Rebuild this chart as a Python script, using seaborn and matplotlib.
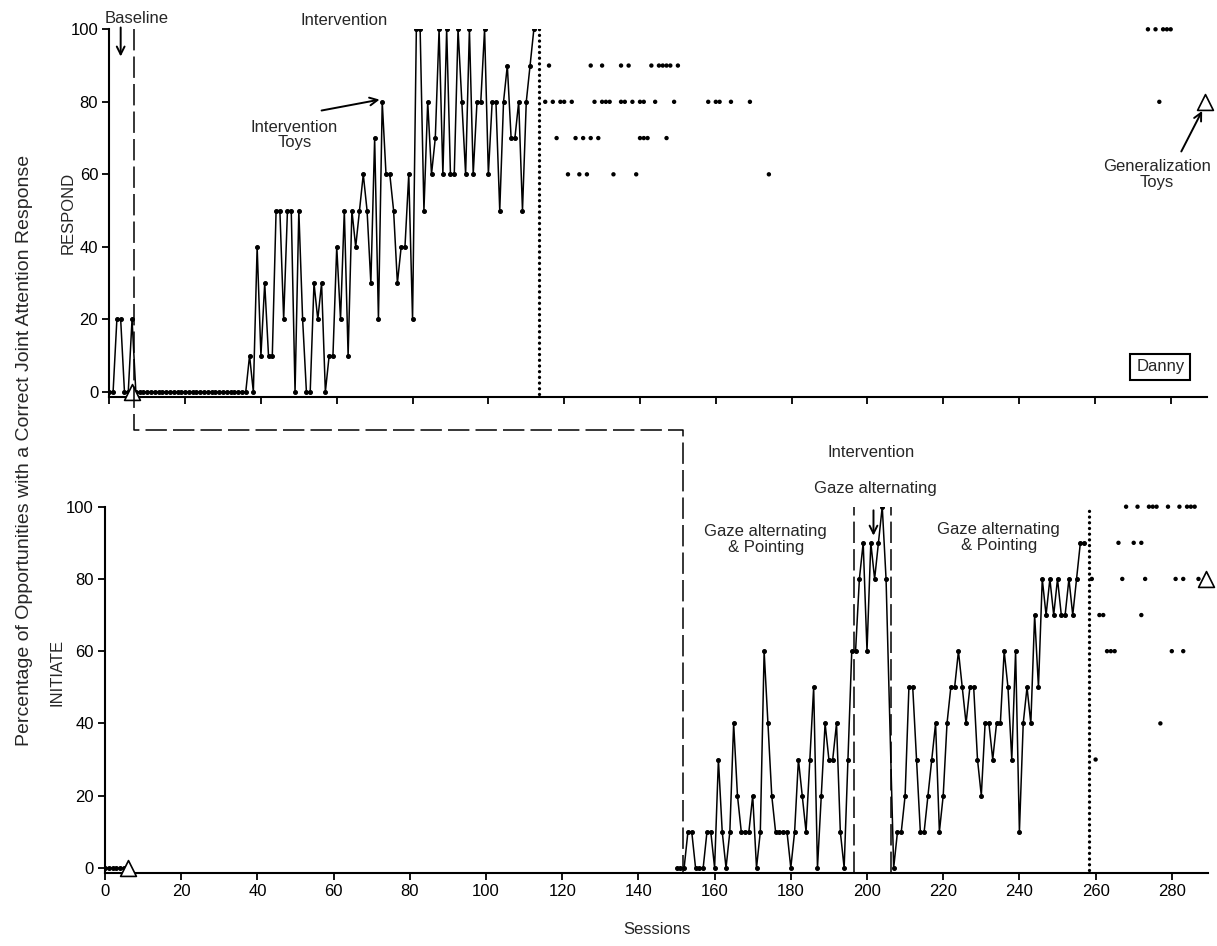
import matplotlib
matplotlib.use("Agg")
import matplotlib.pyplot as plt
import seaborn as sns
import pandas as pd
from matplotlib.lines import Line2D

# ---------------- data ----------------
# RESPOND panel: one continuous series (baseline sessions 0-6, intervention 7-112)
respond_values = (
    [0, 0, 20, 20, 0, 0, 20] +                      # baseline
    [0, 0, 0, 0, 0, 0, 0, 0, 0, 0, 0, 0, 0, 0, 0,
     0, 0, 0, 0, 0, 0, 0, 0, 0, 0, 0, 0, 0, 0, 0] +  # sessions 7-36
    [10, 0, 40, 10, 30, 10, 10, 50, 50, 20, 50, 50, 0, 50, 20,
     0, 0, 30, 20, 30, 0, 10, 10, 40, 20, 50, 10, 50, 40, 50,
     60, 50, 30, 70, 20, 80, 60, 60, 50, 30, 40, 40, 60, 20] +   # 37-80
    [100, 100, 50, 80, 60, 70, 100, 60, 100, 60, 60, 100, 80, 60, 100, 60,
     80, 80, 100, 60, 80, 80, 50, 80, 90, 70, 70, 80, 50, 80, 90, 100]  # 81-112
)
respond_first_session = 0
respond_phase_change = 6.4
respond_followup_start = 113.4

respond_fu_sessions = [116, 127, 130, 135, 137, 143, 145, 146, 147, 148, 150,
                       115, 117, 119, 120, 122, 128, 130, 131, 132, 135, 136, 138, 140,
                       141, 144, 149, 158, 160, 161, 164, 169, 277,
                       118, 123, 125, 127, 129, 140, 141, 142, 147,
                       121, 124, 126, 133, 139, 174,
                       274, 276, 278, 279, 280]
respond_fu_values = [90] * 11 + [80] * 22 + [70] * 9 + [60] * 6 + [100] * 5

respond_probe_sessions = [6, 289]
respond_probe_values = [0, 80]

# INITIATE panel
initiate_base1_sessions = [0, 1, 2, 3, 4, 5]
initiate_base1_values = [0, 0, 0, 0, 0, 0]
initiate_main_sessions = list(range(150, 206)) + list(range(207, 258))
initiate_main_values = (
    [0, 0] +                                                     # baseline 150-151
    [0, 10, 10, 0, 0, 0, 10, 10, 0, 30, 10, 0, 10, 40, 20, 10, 10, 10,
     20, 0, 10, 60, 40, 20, 10, 10, 10, 10, 0, 10, 30, 20, 10, 30, 50,
     0, 20, 40, 30, 30, 40, 10, 0, 30, 60] +                      # 152-196
    [60, 80, 90, 60, 90, 80, 90, 100, 80] +                       # 197-205
    [0, 10, 10, 20, 50, 50, 30, 10, 10, 20, 30, 40, 10, 20, 40, 50, 50,
     60, 50, 40, 50, 50, 30, 20, 40, 40, 30, 40, 40, 60, 50, 30, 60, 10,
     40, 50, 40, 70, 50, 80, 70, 80, 70, 80, 70, 70, 80, 70, 80, 90, 90]  # 207-257
)
initiate_phase_changes = [151.6, 196.6, 206.3]
initiate_followup_start = 258.2

initiate_fu_sessions = [268, 271, 274, 275, 276, 279, 282, 284, 285, 286,
                        266, 270, 272,
                        259, 267, 273, 281, 283, 287,
                        261, 262, 272,
                        263, 264, 265, 280, 283,
                        277, 260]
initiate_fu_values = [100] * 10 + [90] * 3 + [80] * 6 + [70] * 3 + [60] * 5 + [40, 30]

initiate_probe_sessions = [6, 289]
initiate_probe_values = [0, 80]

x_ticks = list(range(0, 281, 20))
y_ticks = [0, 20, 40, 60, 80, 100]

# ---------------- style ----------------
sns.set_style("ticks")
plt.rcParams['font.family'] = ['Liberation Sans', 'DejaVu Sans']
plt.rcParams['font.size'] = 12

W, H = 1217, 946
fig = plt.figure(figsize=(W / 100, H / 100), dpi=100)
ax_top = fig.add_axes([109.3 / W, 1 - 397.3 / H, (1206.7 - 109.3) / W, 368.0 / H])
ax_bot = fig.add_axes([105.0 / W, 1 - 873.3 / H, (1208.0 - 105.0) / W, 366.6 / H])

XMAX = 289.5
YMIN = -1.5
dash_style = (0, (14, 4))

line_kw = dict(color='black', linewidth=1.1, marker='o', markersize=2.8,
               markeredgecolor='black', markerfacecolor='black',
               estimator=None, sort=False, legend=False)
dot_kw = dict(color='black', s=10, edgecolor='none', legend=False, clip_on=False)
probe_kw = dict(marker='^', s=130, facecolor='white', edgecolor='black',
                linewidth=1.2, clip_on=False, zorder=6, legend=False)
dotted_kw = dict(color='black', linewidth=2.4, linestyle=(0, (0.01, 1.7)),
                 dash_capstyle='round', zorder=4)

# ---- RESPOND ----
respond_sessions = list(range(respond_first_session,
                              respond_first_session + len(respond_values)))
df_r = pd.DataFrame({'session': respond_sessions, 'value': respond_values})
sns.lineplot(data=df_r, x='session', y='value', ax=ax_top, **line_kw)

df_rf = pd.DataFrame({'session': respond_fu_sessions, 'value': respond_fu_values})
sns.scatterplot(data=df_rf, x='session', y='value', ax=ax_top, **dot_kw)

df_rp = pd.DataFrame({'session': respond_probe_sessions, 'value': respond_probe_values})
sns.scatterplot(data=df_rp, x='session', y='value', ax=ax_top, **probe_kw)

ax_top.plot([respond_followup_start] * 2, [-0.5, 100], **dotted_kw)

# ---- INITIATE ----
df_b1 = pd.DataFrame({'session': initiate_base1_sessions, 'value': initiate_base1_values})
sns.lineplot(data=df_b1, x='session', y='value', ax=ax_bot, **line_kw)
df_m = pd.DataFrame({'session': initiate_main_sessions, 'value': initiate_main_values})
sns.lineplot(data=df_m, x='session', y='value', ax=ax_bot, **line_kw)

df_if = pd.DataFrame({'session': initiate_fu_sessions, 'value': initiate_fu_values})
sns.scatterplot(data=df_if, x='session', y='value', ax=ax_bot, **dot_kw)

df_ip = pd.DataFrame({'session': initiate_probe_sessions, 'value': initiate_probe_values})
sns.scatterplot(data=df_ip, x='session', y='value', ax=ax_bot, **probe_kw)

for pc in initiate_phase_changes[1:]:
    ax_bot.plot([pc, pc], [YMIN, 100], color='black', linewidth=1.1,
                linestyle=dash_style, zorder=3)

ax_bot.plot([initiate_followup_start] * 2, [-0.5, 100], **dotted_kw)

# ---- axes formatting (after seaborn, which sets labels) ----
for ax in (ax_top, ax_bot):
    ax.set_xlim(0, XMAX)
    ax.set_ylim(YMIN, 100)
    ax.set_xticks(x_ticks)
    ax.set_yticks(y_ticks)
    for s in ('top', 'right'):
        ax.spines[s].set_visible(False)
    for s in ('left', 'bottom'):
        ax.spines[s].set_linewidth(1.5)
        ax.spines[s].set_color('black')
    ax.spines['left'].set_bounds(YMIN, 100)
    ax.tick_params(direction='out', length=5, width=1.3, colors='black',
                   labelsize=12, pad=3)
    ax.set_xlabel('')
    ax.set_ylabel('')
    ax.patch.set_alpha(0)

ax_top.set_xticklabels([])
ax_bot.set_xlabel('Sessions', fontsize=12, labelpad=16)

# ---- staircase phase line across panels ----
GAP_LEVEL = 121.2   # in INITIATE data units, between the panels
p_a = ax_top.transData.transform((respond_phase_change, 100))
p_c = ax_bot.transData.transform((initiate_phase_changes[0], GAP_LEVEL))
p_d = ax_bot.transData.transform((initiate_phase_changes[0], YMIN))
pts_disp = [(p_a[0], p_a[1]), (p_a[0], p_c[1]), (p_c[0], p_c[1]), (p_d[0], p_d[1])]
inv = fig.transFigure.inverted()
pts_fig = [inv.transform(p) for p in pts_disp]
fig.add_artist(Line2D([p[0] for p in pts_fig], [p[1] for p in pts_fig],
                      transform=fig.transFigure, color='black', linewidth=1.1,
                      linestyle=dash_style))

# ---------------- annotations ----------------
arrow = dict(arrowstyle='->', color='black', lw=1.4, mutation_scale=14,
             shrinkA=0, shrinkB=0)

ax_top.text(7.2, 103.1, 'Baseline', ha='center', va='center', fontsize=12, clip_on=False)
ax_top.annotate('', xy=(3.0, 92.5), xytext=(3.0, 100.5), arrowprops=arrow,
                annotation_clip=False)
ax_top.text(62, 102.5, 'Intervention', ha='center', va='center', fontsize=12, clip_on=False)
ax_top.text(48.8, 70.9, 'Intervention\nToys', ha='center', va='center',
            fontsize=12, linespacing=1.05)
ax_top.annotate('', xy=(71.3, 80.6), xytext=(56.0, 77.6), arrowprops=arrow,
                annotation_clip=False)
ax_top.text(276.4, 60.0, 'Generalization\nToys', ha='center', va='center',
            fontsize=12, linespacing=1.05)
ax_top.annotate('', xy=(288.3, 77.5), xytext=(282.8, 66.3), arrowprops=arrow,
                annotation_clip=False)
ax_top.text(277.3, 6.9, 'Danny', ha='center', va='center', fontsize=12,
            bbox=dict(boxstyle='square,pad=0.35', facecolor='white',
                      edgecolor='black', linewidth=1.5))

ax_bot.text(201.2, 115.0, 'Intervention', ha='center', va='center', fontsize=12, clip_on=False)
ax_bot.text(202.3, 105.0, 'Gaze alternating', ha='center', va='center', fontsize=12, clip_on=False)
ax_bot.annotate('', xy=(201.7, 92.0), xytext=(201.7, 99.0), arrowprops=arrow,
                annotation_clip=False)
ax_bot.text(173.4, 91.0, 'Gaze alternating\n& Pointing', ha='center', va='center',
            fontsize=12, linespacing=1.05)
ax_bot.text(234.6, 91.5, 'Gaze alternating\n& Pointing', ha='center', va='center',
            fontsize=12, linespacing=1.05)

fig.text(25 / W, 1 - 450 / H,
         'Percentage of Opportunities with a Correct Joint Attention Response',
         rotation=90, ha='center', va='center', fontsize=14)
fig.text(68 / W, 1 - 213 / H, 'RESPOND', rotation=90, ha='center', va='center', fontsize=12)
fig.text(57 / W, 1 - 672 / H, 'INITIATE', rotation=90, ha='center', va='center', fontsize=12)

fig.savefig('out.png', dpi=100)
